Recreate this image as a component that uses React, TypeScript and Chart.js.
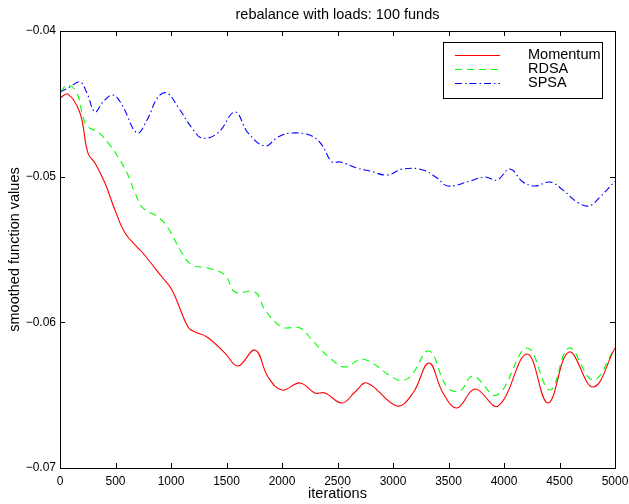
import React, { useEffect, useRef } from 'react';
import { Chart, registerables } from 'chart.js';

Chart.register(...registerables);

const chartTitle = 'rebalance with loads: 100 funds';
const xAxisTitle = 'iterations';
const yAxisTitle = 'smoothed function values';
const seriesNames = ['Momentum', 'RDSA', 'SPSA'];
const xTickValues = [0, 500, 1000, 1500, 2000, 2500, 3000, 3500, 4000, 4500, 5000];
const yTickValues = [-0.07, -0.06, -0.05, -0.04];

const momentumIter = [0, 72, 180, 252, 315, 405, 495, 586, 703, 739, 919, 1009, 1153, 1216, 1324, 1486, 1604, 1757, 1874, 2000, 2162, 2297, 2387, 2541, 2658, 2766, 3036, 3180, 3324, 3450, 3577, 3739, 3946, 4207, 4396, 4586, 4802, 5000];
const momentumVals = [-0.0446, -0.04433, -0.04563, -0.04838, -0.04906, -0.05044, -0.05229, -0.05387, -0.0549, -0.05517, -0.05689, -0.05778, -0.06032, -0.06066, -0.06101, -0.06211, -0.063, -0.0619, -0.06375, -0.06465, -0.06416, -0.06485, -0.06485, -0.06554, -0.06478, -0.06416, -0.06574, -0.06485, -0.06279, -0.06485, -0.06588, -0.06458, -0.06574, -0.06217, -0.06554, -0.06204, -0.06444, -0.06176];

const rdsaIter = [0, 72, 153, 207, 252, 342, 450, 523, 604, 676, 748, 883, 973, 1099, 1189, 1333, 1486, 1577, 1757, 1847, 2000, 2162, 2270, 2432, 2568, 2730, 3045, 3153, 3324, 3486, 3604, 3721, 3937, 4207, 4414, 4586, 4802, 5000];
const rdsaVals = [-0.04419, -0.04371, -0.04426, -0.0459, -0.04659, -0.04693, -0.04783, -0.04865, -0.04975, -0.05112, -0.05216, -0.05277, -0.05352, -0.05524, -0.05606, -0.05627, -0.05675, -0.05792, -0.05792, -0.05915, -0.06032, -0.06039, -0.06121, -0.06245, -0.06307, -0.06252, -0.06396, -0.06375, -0.06197, -0.06444, -0.06471, -0.06368, -0.06499, -0.06176, -0.06465, -0.06176, -0.06396, -0.06176];

const spsaIter = [0, 90, 180, 243, 315, 387, 477, 559, 694, 784, 883, 964, 1063, 1189, 1279, 1423, 1577, 1694, 1847, 1964, 2090, 2270, 2360, 2450, 2523, 2676, 2793, 2946, 3090, 3270, 3396, 3495, 3694, 3829, 3937, 4054, 4171, 4279, 4414, 4532, 4658, 4766, 4865, 5000];
const spsaVals = [-0.04419, -0.04384, -0.0435, -0.04426, -0.04556, -0.04487, -0.04439, -0.04508, -0.047, -0.04611, -0.04453, -0.04426, -0.04522, -0.04666, -0.04735, -0.047, -0.04556, -0.047, -0.04789, -0.04728, -0.047, -0.04721, -0.04783, -0.04899, -0.04899, -0.04941, -0.04961, -0.04989, -0.04947, -0.04954, -0.05009, -0.05064, -0.0503, -0.05002, -0.05023, -0.04947, -0.05037, -0.05064, -0.05037, -0.05092, -0.05174, -0.05201, -0.0514, -0.0503];

const seriesColors = ['#ff0000', '#00ff00', '#0000ff'];
const seriesDashes = [[], [7, 5], [7, 3, 1.5, 3]];

const FONT = '"Liberation Sans", Arial, Helvetica, sans-serif';

function toPoints(xs: number[], ys: number[]) {
  return xs.map((x, i) => ({ x, y: ys[i] }));
}

const decorPlugin = {
  id: 'decor',
  afterDraw(chart: any) {
    const ctx = chart.ctx;
    const { left, right, top, bottom } = chart.chartArea;
    const xs = chart.scales.x;
    const ys = chart.scales.y;
    ctx.save();
    ctx.strokeStyle = '#000';
    ctx.lineWidth = 1;
    ctx.setLineDash([]);
    ctx.strokeRect(Math.round(left) + 0.5, Math.round(top) + 0.5, Math.round(right - left), Math.round(bottom - top));
    const tl = 5;
    ctx.beginPath();
    xTickValues.forEach((v) => {
      const px = Math.round(xs.getPixelForValue(v)) + 0.5;
      ctx.moveTo(px, bottom);
      ctx.lineTo(px, bottom - tl);
      ctx.moveTo(px, top);
      ctx.lineTo(px, top + tl);
    });
    yTickValues.forEach((v) => {
      const py = Math.round(ys.getPixelForValue(v)) + 0.5;
      ctx.moveTo(left, py);
      ctx.lineTo(left + tl, py);
      ctx.moveTo(right, py);
      ctx.lineTo(right - tl, py);
    });
    ctx.stroke();

    ctx.fillStyle = '#000';
    ctx.font = `14.5px ${FONT}`;
    ctx.textAlign = 'center';
    ctx.textBaseline = 'middle';
    ctx.fillText(chartTitle, (left + right) / 2, 15);
    ctx.fillText(xAxisTitle, (left + right) / 2, 494);
    ctx.save();
    ctx.translate(15, (top + bottom) / 2);
    ctx.rotate(-Math.PI / 2);
    ctx.fillText(yAxisTitle, 0, 0);
    ctx.restore();

    const bx = 443, by = 42, bw = 159, bh = 56;
    ctx.fillStyle = '#fff';
    ctx.fillRect(bx, by, bw, bh);
    ctx.strokeStyle = '#000';
    ctx.strokeRect(bx + 0.5, by + 0.5, bw, bh);
    const rows = [55, 69, 83];
    chart.data.datasets.forEach((ds: any, i: number) => {
      const y = rows[i] + 0.5;
      ctx.strokeStyle = ds.borderColor;
      ctx.lineWidth = 1;
      ctx.setLineDash(ds.borderDash || []);
      ctx.beginPath();
      ctx.moveTo(455, y);
      ctx.lineTo(500, y);
      ctx.stroke();
      ctx.setLineDash([]);
      ctx.fillStyle = '#000';
      ctx.textAlign = 'left';
      ctx.fillText(ds.label, 528, rows[i]);
    });
    ctx.restore();
  },
};

export default function App() {
  const canvasRef = useRef<HTMLCanvasElement | null>(null);

  useEffect(() => {
    document.body.style.margin = '0';
    const canvas = canvasRef.current;
    if (!canvas) return;
    const series = [
      toPoints(momentumIter, momentumVals),
      toPoints(rdsaIter, rdsaVals),
      toPoints(spsaIter, spsaVals),
    ];
    const chart = new Chart(canvas, {
      type: 'line',
      data: {
        datasets: series.map((data, i) => ({
          label: seriesNames[i],
          data,
          borderColor: seriesColors[i],
          backgroundColor: seriesColors[i],
          borderWidth: 1.1,
          borderDash: seriesDashes[i],
          pointRadius: 0,
          tension: 0.4,
          fill: false,
        })),
      },
      options: {
        animation: false,
        responsive: false,
        maintainAspectRatio: false,
        layout: { padding: { left: 0, right: 14, top: 31, bottom: 0 } },
        plugins: {
          legend: { display: false },
          title: { display: false },
          tooltip: { enabled: false },
        },
        scales: {
          x: {
            type: 'linear',
            min: 0,
            max: 5000,
            grid: { display: false, drawTicks: false },
            border: { display: false },
            afterFit: (s: any) => { s.height = 36; s.paddingLeft = 0; s.paddingRight = 0; },
            afterBuildTicks: (s: any) => { s.ticks = xTickValues.map((v) => ({ value: v })); },
            ticks: {
              autoSkip: false,
              maxRotation: 0,
              padding: 6,
              color: '#000',
              font: { family: FONT, size: 12 },
              callback: (v: any) => String(v),
            },
          },
          y: {
            type: 'linear',
            min: -0.07,
            max: -0.04,
            grid: { display: false, drawTicks: false },
            border: { display: false },
            afterFit: (s: any) => { s.width = 60; s.paddingTop = 0; s.paddingBottom = 0; },
            afterBuildTicks: (s: any) => { s.ticks = yTickValues.map((v) => ({ value: v })); },
            ticks: {
              padding: 4,
              color: '#000',
              font: { family: FONT, size: 12 },
              callback: (v: any) => '\u2212' + Math.abs(Number(v)).toFixed(2),
            },
          },
        },
      },
      plugins: [decorPlugin],
    });
    return () => chart.destroy();
  }, []);

  return (
    <div style={{ width: 629, height: 504 }}>
      <canvas ref={canvasRef} width={629} height={504} style={{ display: 'block' }} />
    </div>
  );
}
